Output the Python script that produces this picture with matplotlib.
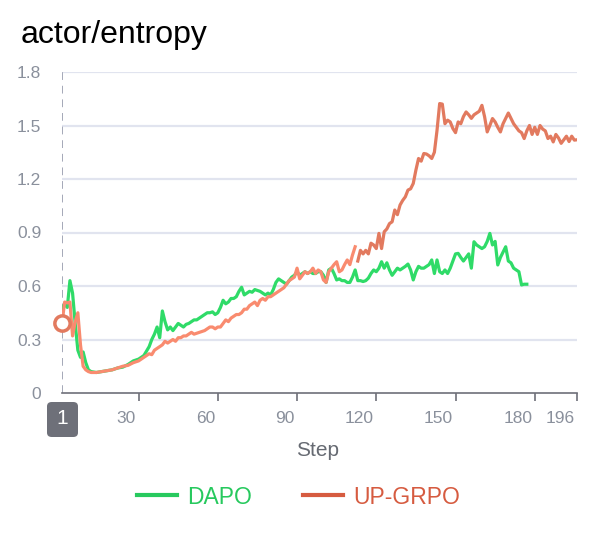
import matplotlib
matplotlib.use("Agg")
import matplotlib.pyplot as plt
from matplotlib.lines import Line2D
from matplotlib.patches import FancyBboxPatch
import matplotlib.transforms as mtransforms

plt.rcParams['font.family'] = ['Liberation Sans', 'DejaVu Sans']

title = "actor/entropy"
x_label = "Step"
series_names = ["DAPO", "UP-GRPO"]
y_ticks = [0, 0.3, 0.6, 0.9, 1.2, 1.5, 1.8]
y_tick_labels = ["0", "0.3", "0.6", "0.9", "1.2", "1.5", "1.8"]
x_ticks = [30, 60, 90, 120, 150, 180, 196]
x_tick_labels = ["30", "60", "90", "120", "150", "180", "196"]
hover_step = 1

dapo_steps = [1, 2, 3, 4, 5, 6, 7, 8, 9, 10, 11, 12, 14, 16, 18, 20, 22, 24, 26, 28, 30, 32, 34, 35, 36, 37, 38, 39, 40,
              41, 42, 43, 44, 45, 46, 47, 48, 49, 50, 51, 52, 53, 54, 55, 56, 57, 58, 59, 60, 61, 62, 63, 64, 65, 66,
              67, 68, 69, 70, 71, 72, 73, 74, 75, 76, 77, 78, 79, 80, 81, 82, 83, 84, 85, 86, 87, 88, 89, 90, 91, 92,
              93, 94, 95, 96, 97, 98, 99, 100, 101, 102, 103, 104, 105, 106, 107, 108, 109, 110, 111, 112, 113, 114,
              115, 116, 117, 118, 119, 120, 121, 122, 123, 124, 125, 126, 127, 128, 129, 130, 131, 132, 133, 134, 135,
              136, 137, 138, 139, 140, 141, 142, 143, 144, 145, 146, 147, 148, 149, 150, 151, 152, 153, 154, 155, 156,
              157, 158, 159, 160, 161, 162, 163, 164, 165, 166, 167, 168, 169, 170, 171, 172, 173, 174, 175, 176, 177]
dapo_values = [0.47, 0.50, 0.48, 0.63, 0.56, 0.39, 0.24, 0.20, 0.23, 0.17, 0.13, 0.12, 0.115, 0.12, 0.125, 0.13, 0.14,
               0.145, 0.16, 0.18, 0.19, 0.21, 0.26, 0.30, 0.33, 0.37, 0.31, 0.46, 0.40,
               0.354, 0.37, 0.35, 0.37, 0.39, 0.38, 0.37, 0.385, 0.39, 0.40, 0.41, 0.41, 0.42, 0.43, 0.44, 0.45, 0.45,
               0.455, 0.44, 0.45, 0.48, 0.52, 0.50, 0.51, 0.53, 0.53,
               0.54, 0.57, 0.593, 0.55, 0.56, 0.57, 0.565, 0.58, 0.575, 0.57, 0.56, 0.55, 0.56, 0.55, 0.58, 0.62, 0.64,
               0.63, 0.62, 0.61, 0.63, 0.65, 0.66, 0.68, 0.66, 0.67,
               0.68, 0.67, 0.68, 0.67, 0.67, 0.68, 0.68, 0.66, 0.62, 0.69, 0.70, 0.67, 0.634, 0.64, 0.63, 0.63, 0.62,
               0.62, 0.65, 0.69, 0.63, 0.63,
               0.625, 0.63, 0.644, 0.67, 0.69, 0.68, 0.70, 0.736, 0.70, 0.73, 0.69, 0.66, 0.68, 0.70, 0.69, 0.70, 0.71,
               0.723, 0.69, 0.634, 0.68,
               0.71, 0.70, 0.70, 0.71, 0.72, 0.746, 0.67, 0.746, 0.68, 0.67, 0.69, 0.67, 0.70, 0.74, 0.78, 0.783, 0.76,
               0.74, 0.76, 0.78, 0.70,
               0.848, 0.83, 0.82, 0.81, 0.82, 0.85, 0.895, 0.83, 0.85, 0.718, 0.76, 0.79, 0.82, 0.74, 0.73, 0.70, 0.69,
               0.68, 0.606, 0.61, 0.61]

grpo_steps = list(range(1, 12)) + [12, 14, 16, 18, 20, 22, 24, 26, 28, 30, 32, 34] + list(range(35, 197))
grpo_values = [0.39, 0.51, 0.505, 0.51, 0.32, 0.40, 0.45, 0.27, 0.15, 0.13, 0.12,
               0.115, 0.115, 0.12, 0.125, 0.13, 0.14, 0.15, 0.155, 0.17, 0.18, 0.20, 0.22,
               0.215, 0.24, 0.25, 0.26, 0.27, 0.29, 0.28, 0.29, 0.30, 0.29, 0.31, 0.31, 0.32, 0.32, 0.33, 0.34, 0.33,
               0.335, 0.34, 0.345, 0.35, 0.36, 0.37, 0.37, 0.36, 0.37, 0.37, 0.39, 0.41, 0.40, 0.42, 0.43, 0.44, 0.44,
               0.45, 0.47, 0.47, 0.49, 0.50, 0.51, 0.49, 0.52, 0.53, 0.52, 0.54, 0.54, 0.55, 0.56, 0.57, 0.58, 0.59,
               0.61, 0.63, 0.64, 0.65, 0.70, 0.64, 0.66, 0.68, 0.67, 0.68, 0.70, 0.67, 0.69, 0.68, 0.634, 0.62, 0.68,
               0.70, 0.72, 0.736, 0.68, 0.69, 0.72, 0.746, 0.72, 0.774, 0.82, 0.74, 0.80, 0.78, 0.80, 0.78, 0.84, 0.83,
               0.81, 0.895, 0.81, 0.904, 0.92, 0.95, 0.96, 1.026, 1.00, 1.054, 1.08, 1.10, 1.138, 1.145, 1.175, 1.25,
               1.315, 1.30, 1.343, 1.34, 1.33, 1.315, 1.35, 1.473, 1.623, 1.62, 1.51, 1.53, 1.52, 1.483, 1.46, 1.52,
               1.51, 1.55, 1.576, 1.56, 1.54, 1.56, 1.57, 1.58, 1.613, 1.55, 1.464, 1.50, 1.539, 1.52, 1.49, 1.464,
               1.51, 1.54, 1.57, 1.54, 1.51, 1.49, 1.47, 1.46, 1.427, 1.47, 1.50, 1.45, 1.49, 1.45, 1.50, 1.48, 1.47,
               1.427, 1.44, 1.408, 1.45, 1.43, 1.40, 1.42, 1.44, 1.41, 1.44, 1.418, 1.42]
grpo_split_step = 112

W, H = 597, 541
fig = plt.figure(figsize=(W / 100, H / 100), dpi=100)
ax = fig.add_axes([62 / W, 1 - 393 / H, (577 - 62) / W, (393 - 72) / H])

green = "#2fdb68"
red_light = "#f98b6f"
red_dark = "#e27a5f"

ax.set_xlim(1, 196)
ax.set_ylim(0, 1.8)

for yt in y_ticks[1:]:
    ax.axhline(yt, color="#e1e4ef", lw=1.6, zorder=0)

lw = 2.3
ax.plot(dapo_steps, dapo_values, color=green, lw=lw, zorder=3, solid_joinstyle="round")
i_split = grpo_steps.index(grpo_split_step)
ax.plot(grpo_steps[:i_split + 1], grpo_values[:i_split + 1], color=red_light, lw=lw, zorder=4,
        solid_joinstyle="round")
ax.plot(grpo_steps[i_split + 1:], grpo_values[i_split + 1:], color=red_dark, lw=lw, zorder=4,
        solid_joinstyle="round")

# hover indicator
ax.axvline(hover_step, color="#a4a8b8", lw=1.4, ls=(0, (4, 3)), zorder=2)
ax.plot([hover_step], [grpo_values[grpo_steps.index(hover_step)]], marker="o", ms=11, mfc="white",
        mec=red_dark, mew=2.5, zorder=6, clip_on=False)

for s in ["top", "right", "left"]:
    ax.spines[s].set_visible(False)
ax.spines["bottom"].set_color("#6e7079")
ax.spines["bottom"].set_linewidth(1.2)

ax.set_yticks(y_ticks)
ax.set_yticklabels(y_tick_labels)
ax.tick_params(axis="y", length=0, pad=15, labelsize=12.5, labelcolor="#8a909c")

ax.set_xticks(x_ticks)
ax.set_xticklabels(x_tick_labels)
ax.tick_params(axis="x", length=6, width=1.2, color="#6e7079", pad=7, labelsize=12.5, labelcolor="#8a909c")
offset = mtransforms.ScaledTranslation(-2.5 / 100, 0, fig.dpi_scale_trans)
for lab in ax.get_xticklabels():
    lab.set_horizontalalignment("right")
    lab.set_transform(lab.get_transform() + offset)

# hover label box
bx0, by0 = 47 / W, 1 - 437 / H
box = FancyBboxPatch((bx0, by0), 31 / W, 35 / H, boxstyle="round,pad=0,rounding_size=0.008",
                     transform=fig.transFigure, fc="#6e7079", ec="none", zorder=10)
fig.patches.append(box)
fig.text(62.5 / W, 1 - 419 / H, str(hover_step), color="white", fontsize=15, ha="center", va="center",
         zorder=12)

fig.text(318 / W, 1 - 450 / H, x_label, fontsize=15, color="#666a72", ha="center", va="center")
fig.text(21 / W, 1 - 35 / H, title, fontsize=23, color="black", ha="left", va="center")

handles = [Line2D([], [], color="#27c95e", lw=3), Line2D([], [], color="#d65b40", lw=3)]
leg = fig.legend(handles, series_names, loc="center", bbox_to_anchor=(0.5, 1 - 497 / H), ncol=2,
                 frameon=False, fontsize=16.5, handlelength=1.75, handletextpad=0.45, columnspacing=2.2)
for t, c in zip(leg.get_texts(), ["#27c95e", "#d65b40"]):
    t.set_color(c)

fig.savefig("out.png", dpi=100)
